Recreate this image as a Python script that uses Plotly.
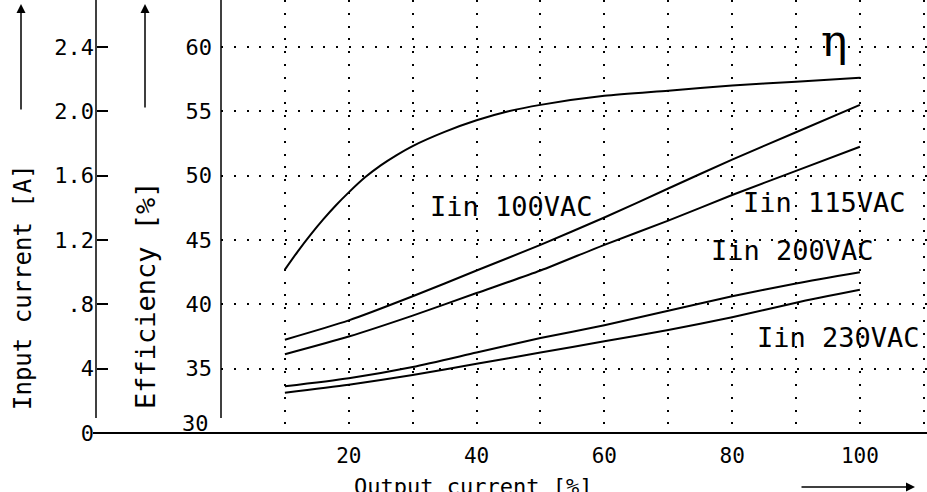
import plotly.graph_objects as go

# ---- data ----
out_current = [10, 20, 30, 40, 50, 60, 70, 80, 90, 100]

eff_x = [10, 12, 14, 16, 18, 20, 22.5, 25, 27.5, 30, 35, 40, 45, 50, 60, 70, 80,
         90, 100]
efficiency = [42.7, 44.1, 45.4, 46.6, 47.7, 48.7, 49.85, 50.8, 51.6, 52.3, 53.4,
              54.3, 55.0, 55.5, 56.2, 56.6, 57.0, 57.3, 57.6]

iin_100vac = [0.58, 0.70, 0.85, 1.01, 1.17, 1.34, 1.52, 1.70, 1.87, 2.04]
iin_115vac = [0.49, 0.60, 0.73, 0.87, 1.01, 1.17, 1.32, 1.48, 1.63, 1.78]
iin_200vac = [0.29, 0.34, 0.41, 0.50, 0.59, 0.67, 0.76, 0.85, 0.93, 1.00]
iin_230vac = [0.25, 0.30, 0.36, 0.43, 0.50, 0.57, 0.64, 0.72, 0.81, 0.89]

x_tickvals = [10, 20, 30, 40, 50, 60, 70, 80, 90, 100, 110]
x_ticktext = ["", "20", "", "40", "", "60", "", "80", "", "100", ""]
eff_tickvals = [35, 40, 45, 50, 55, 60]
eff_ticktext = ["35", "40", "45", "50", "55", "60"]
cur_tickvals = [0, 0.4, 0.8, 1.2, 1.6, 2.0, 2.4]
cur_ticktext = ["0", "4", ".8", "1.2", "1.6", "2.0", "2.4"]

labels = [
    ("Iin 100VAC", 45.5, 47.6),
    ("Iin 115VAC", 94.5, 47.9),
    ("Iin 200VAC", 89.4, 44.2),
    ("Iin 230VAC", 96.6, 37.4),
]

W, H = 927, 492
MB = 59
PH = H - MB
FONT = "DejaVu Sans Mono"
BLACK = "#000000"
CUR_RANGE = [0, 2.692]

fig = go.Figure()
line_style = dict(color=BLACK, width=2, shape="spline", smoothing=0.7)
fig.add_trace(go.Scatter(x=eff_x, y=efficiency, mode="lines", line=line_style,
                         yaxis="y", name="Efficiency"))
for name, vals in [("Iin 100VAC", iin_100vac), ("Iin 115VAC", iin_115vac),
                   ("Iin 200VAC", iin_200vac), ("Iin 230VAC", iin_230vac)]:
    fig.add_trace(go.Scatter(x=out_current, y=vals, mode="lines", line=line_style,
                             yaxis="y2", name=name))
# invisible companion so that the label-only current axis (y3) is drawn
fig.add_trace(go.Scatter(x=out_current, y=iin_100vac, mode="lines", yaxis="y3",
                         opacity=0, hoverinfo="skip", showlegend=False,
                         line=dict(width=0, color=BLACK)))

grid = dict(showgrid=True, gridcolor=BLACK, gridwidth=1.5, griddash="2px,10.8px")
tickfont = dict(family=FONT, size=22, color=BLACK)

fig.update_layout(
    width=W, height=H,
    margin=dict(l=0, r=0, t=0, b=MB, autoexpand=False),
    paper_bgcolor="white", plot_bgcolor="white",
    showlegend=False,
    font=dict(family=FONT, color=BLACK),
    xaxis=dict(domain=[221 / W, 1], range=[0, 110.5], tickvals=x_tickvals,
               ticktext=x_ticktext, ticks="", zeroline=False, showline=False,
               tickfont=dict(family=FONT, size=21, color=BLACK),
               ticklabelstandoff=8, automargin=False, **grid),
    yaxis=dict(range=[30, 63.65], tickvals=eff_tickvals, ticktext=eff_ticktext,
               ticks="", zeroline=False, showline=False, tickfont=tickfont,
               ticklabelstandoff=8, automargin=False, **grid),
    # input-current axis: tick marks pointing right from the line at x=96 px
    yaxis2=dict(overlaying="y", anchor="free", position=96 / W, side="right",
                range=CUR_RANGE, tickvals=cur_tickvals, showticklabels=False,
                ticks="outside", ticklen=11, tickwidth=1.5, tickcolor=BLACK,
                showgrid=False, zeroline=False, showline=False, automargin=False),
    # input-current axis: its tick labels
    yaxis3=dict(overlaying="y", anchor="free", position=94 / W, side="left",
                range=CUR_RANGE, tickvals=cur_tickvals, ticktext=cur_ticktext,
                ticks="", showgrid=False, zeroline=False, showline=False,
                tickfont=tickfont, ticklabelstandoff=0, automargin=False),
)

# axis lines
fig.add_shape(type="line", xref="paper", yref="paper", x0=93 / W, x1=1, y0=0, y1=0,
              line=dict(color=BLACK, width=2))
for px in (96, 221):
    fig.add_shape(type="line", xref="paper", yref="paper", x0=px / W, x1=px / W,
                  y0=15 / PH, y1=1, line=dict(color=BLACK, width=1.5))

# the "30" label, lifted above the x axis line
fig.add_annotation(x=211 / W, xref="paper", y=30, yref="y", yshift=10,
                   text="30", showarrow=False, xanchor="right", yanchor="middle",
                   font=tickfont)

# curve labels
for text, x, y in labels:
    fig.add_annotation(x=x, y=y, xref="x", yref="y", text=text, showarrow=False,
                       xanchor="center", yanchor="middle",
                       font=dict(family=FONT, size=27, color=BLACK))
fig.add_annotation(x=95.9, y=60.5, xref="x", yref="y", text="η", showarrow=False,
                   xanchor="center", yanchor="middle",
                   font=dict(family="DejaVu Serif", size=44, color=BLACK))

# axis titles
fig.add_annotation(x=23 / W, y=(PH - 287) / PH, xref="paper", yref="paper",
                   text="Input current [A]", textangle=-90, showarrow=False,
                   xanchor="center", yanchor="middle",
                   font=dict(family=FONT, size=24, color=BLACK))
fig.add_annotation(x=145 / W, y=(PH - 295) / PH, xref="paper", yref="paper",
                   text="Efficiency [%]", textangle=-90, showarrow=False,
                   xanchor="center", yanchor="middle",
                   font=dict(family=FONT, size=27, color=BLACK))
fig.add_annotation(x=473 / W, y=(PH - 472) / PH, xref="paper", yref="paper",
                   text="Output current [%]", showarrow=False,
                   xanchor="center", yanchor="top",
                   font=dict(family=FONT, size=22, color=BLACK))

# direction arrows
arrow = dict(showarrow=True, arrowhead=2, arrowsize=1.2, arrowwidth=1.5,
             arrowcolor=BLACK, text="", xref="paper", yref="paper")
fig.add_annotation(x=21 / W, y=(PH - 4) / PH, ax=0, ay=107, **arrow)
fig.add_annotation(x=145 / W, y=(PH - 4) / PH, ax=0, ay=105, **arrow)
fig.add_annotation(x=915 / W, y=(PH - 487) / PH, ax=-115, ay=0, **arrow)

fig.write_html("out.html",
               config={"displayModeBar": False},
               post_script="document.body.style.margin='0px';"
                           "document.body.style.overflow='hidden';")
